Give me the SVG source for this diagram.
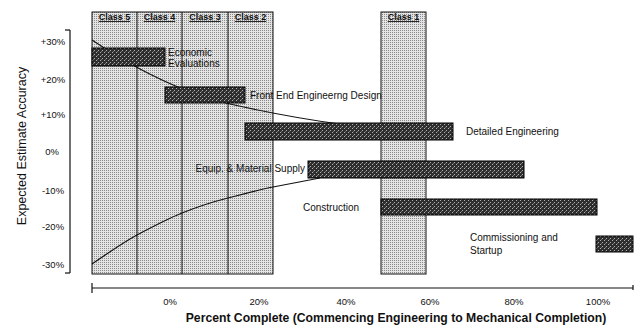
<svg xmlns="http://www.w3.org/2000/svg" width="642" height="325" viewBox="0 0 642 325">
<defs>
<pattern id="stip" width="2" height="2" patternUnits="userSpaceOnUse">
<rect width="2" height="2" fill="#e4e4e4"/>
<rect width="1" height="1" fill="#8a8a8a"/>
</pattern>
<pattern id="hatch" width="4" height="4" patternUnits="userSpaceOnUse">
<rect width="4" height="4" fill="#2e2e2e"/>
<rect x="0" y="0" width="1" height="1" fill="#b0b0b0"/>
<rect x="2" y="2" width="1" height="1" fill="#b0b0b0"/>
<rect x="1" y="3" width="1" height="1" fill="#707070"/>
</pattern>
<style>
text{font-family:"Liberation Sans",Arial,sans-serif;fill:#111}
.lbl{font-size:10px}
.tick{font-size:9.5px}
.hdr{font-size:9px;font-weight:bold;text-decoration:underline}
.panel{fill:url(#stip);stroke:#111;stroke-width:1}
.div{stroke:#111;stroke-width:1}
.bar{fill:url(#hatch);stroke:#000;stroke-width:1}
.axis{stroke:#111;stroke-width:1.2;fill:none}
.curve{stroke:#111;stroke-width:1.1;fill:none}
</style>
</defs>
<rect width="642" height="325" fill="#fff"/>

<g id="class-panel-left">
<rect class="panel" x="92" y="12" width="181" height="262"/>
<line class="div" x1="137" y1="12" x2="137" y2="274"/>
<line class="div" x1="182" y1="12" x2="182" y2="274"/>
<line class="div" x1="228" y1="12" x2="228" y2="274"/>
<text class="hdr" x="114.5" y="20" text-anchor="middle">Class 5</text>
<text class="hdr" x="159.5" y="20" text-anchor="middle">Class 4</text>
<text class="hdr" x="205" y="20" text-anchor="middle">Class 3</text>
<text class="hdr" x="250.5" y="20" text-anchor="middle">Class 2</text>
</g>
<g id="class-panel-1">
<rect class="panel" x="381" y="12" width="45" height="262"/>
<text class="hdr" x="403.5" y="20" text-anchor="middle">Class 1</text>
</g>

<g id="y-axis">
<line class="axis" x1="70" y1="30" x2="70" y2="273"/>
<line class="axis" x1="65" y1="30" x2="70" y2="30"/>
<line class="axis" x1="65" y1="273" x2="70" y2="273"/>
<g class="tick" text-anchor="middle">
<text x="53" y="45">+30%</text>
<text x="53" y="83">+20%</text>
<text x="53" y="118">+10%</text>
<text x="52" y="155">0%</text>
<text x="53" y="194">-10%</text>
<text x="53" y="230">-20%</text>
<text x="53" y="268">-30%</text>
</g>
<text x="26" y="146" text-anchor="middle" font-size="12.5" transform="rotate(-90 26 146)">Expected Estimate Accuracy</text>
</g>

<g id="x-axis">
<line class="axis" x1="92" y1="288" x2="633" y2="288"/>
<line class="axis" x1="92" y1="283" x2="92" y2="293"/>
<line class="axis" x1="633" y1="285" x2="633" y2="290"/>
<g class="tick" text-anchor="middle">
<text x="170" y="305">0%</text>
<text x="259" y="305">20%</text>
<text x="346" y="305">40%</text>
<text x="430" y="305">60%</text>
<text x="514" y="305">80%</text>
<text x="598" y="305">100%</text>
</g>
<text x="396" y="322" text-anchor="middle" font-size="12.2" font-weight="bold">Percent Complete (Commencing Engineering to Mechanical Completion)</text>
</g>

<g id="connectors">
<path class="curve" d="M92,40 C110,52 125,61 140,69 C170,85 200,97 230,104 C270,113 310,120 340,124 L430,131"/>
<path class="curve" d="M92,264 C110,252 122,243 137,235 C152,227 167,219 182,213 C197,207 212,202 228,198 C243,194 258,190 273,187 L320,178"/>
</g>

<g id="economic-evaluations">
<rect class="bar" x="92" y="48" width="73" height="18"/>
<text class="lbl" x="168" y="56">Economic</text>
<text class="lbl" x="168" y="67">Evaluations</text>
</g>
<g id="front-end-engineering-design">
<rect class="bar" x="165" y="87" width="80" height="16"/>
<text class="lbl" x="250" y="99">Front End Engineerng Design</text>
</g>
<g id="detailed-engineering">
<rect class="bar" x="245" y="123" width="208" height="17"/>
<text class="lbl" x="466" y="135">Detailed Engineering</text>
</g>
<g id="equip-material-supply">
<rect class="bar" x="308" y="161" width="216" height="17"/>
<text class="lbl" x="305" y="172" text-anchor="end">Equip. &amp; Material Supply</text>
</g>
<g id="construction">
<rect class="bar" x="381" y="199" width="216" height="16"/>
<text class="lbl" x="303" y="211">Construction</text>
</g>
<g id="commissioning-startup">
<rect class="bar" x="596" y="236" width="37" height="16"/>
<text class="lbl" x="470" y="241">Commissioning and</text>
<text class="lbl" x="470" y="254">Startup</text>
</g>
</svg>
